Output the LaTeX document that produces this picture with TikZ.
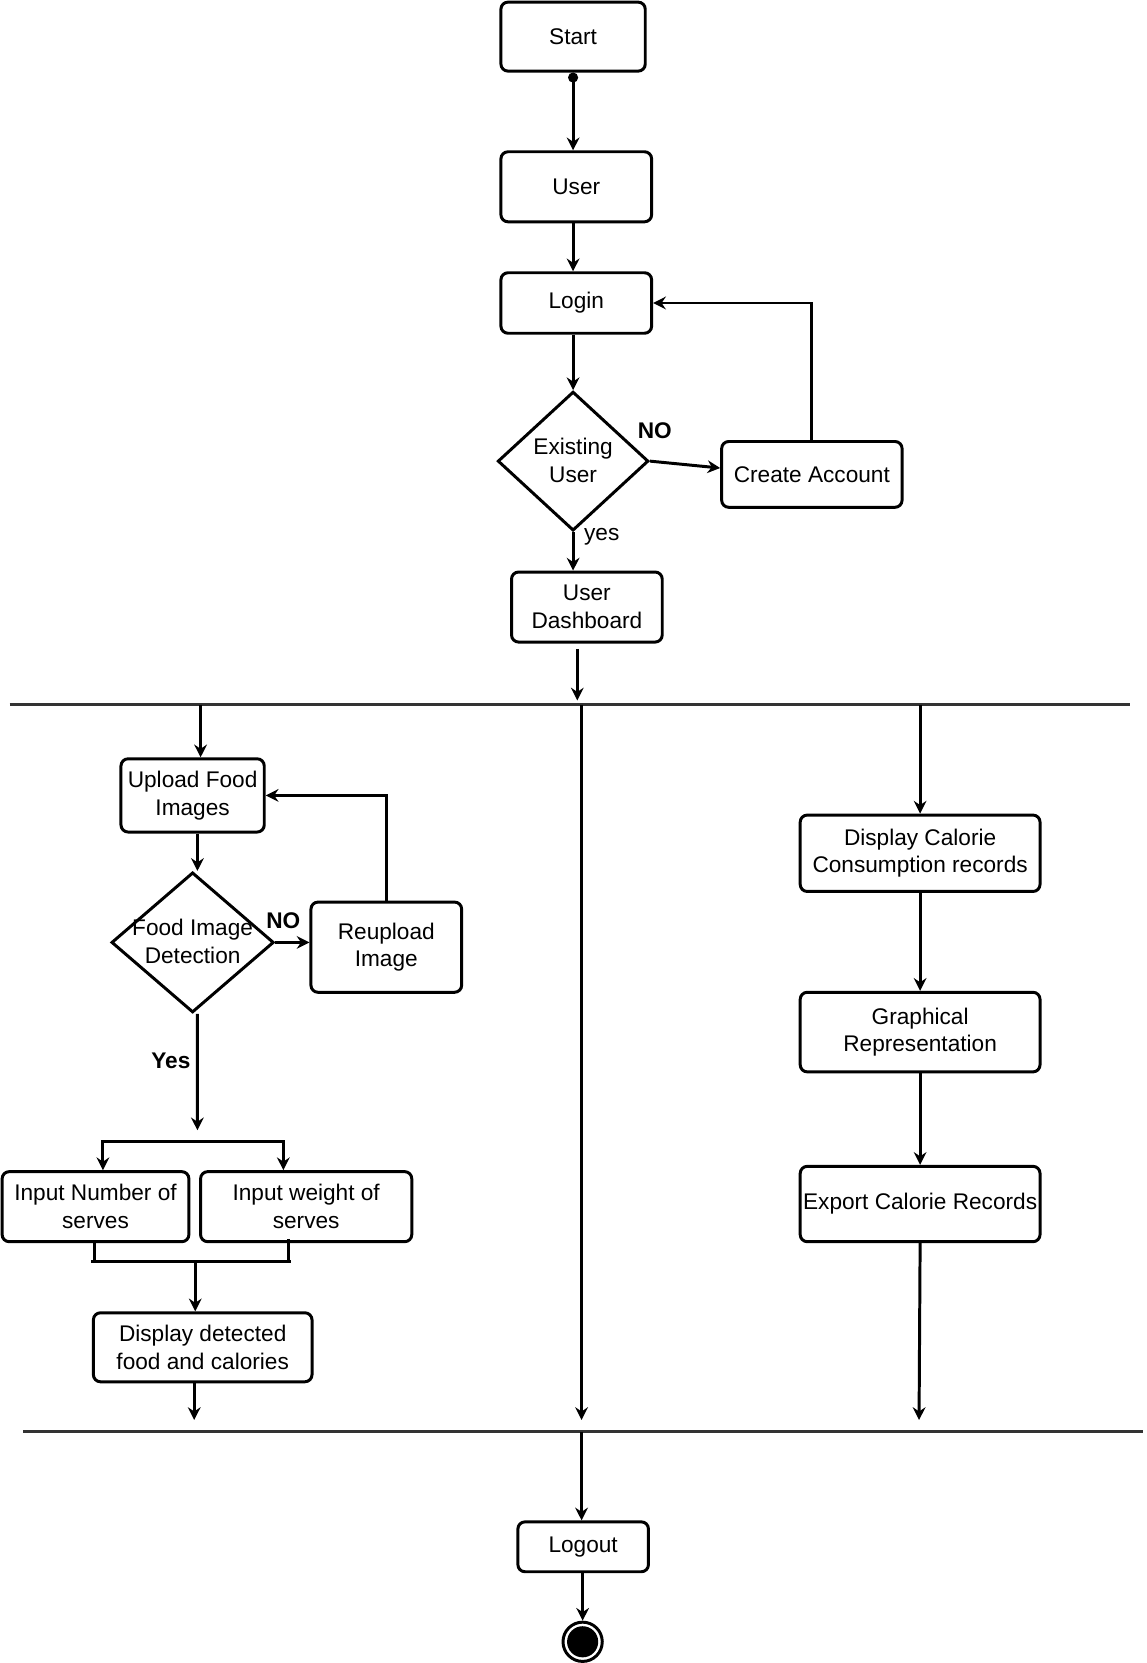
\documentclass[tikz,border=0pt]{standalone}
\usepackage{fontspec}
\setmainfont{Liberation Sans}
\usetikzlibrary{shapes.geometric,arrows.meta,calc}
\begin{document}
\begin{tikzpicture}[x=0.75pt,y=-0.75pt,
  >={Stealth[length=9pt,width=9pt,inset=3pt]},
  every node/.style={font=\fontsize{16}{19.5}\selectfont, text=black},
  box/.style={draw, rounded corners=5pt, line width=2.1pt, align=center, inner sep=0pt},
  dia/.style={draw, diamond, line width=2.1pt, inner sep=0pt},
  lbl/.style={inner sep=0pt, align=center},
  bl/.style={inner sep=0pt, font=\fontsize{16}{19.5}\selectfont\bfseries},
  con/.style={line width=2.1pt},
  arr/.style={con, ->},
  bar/.style={line width=1.9pt, draw=black!80}
]
\useasboundingbox (0,0) rectangle (1080,1567);

% ---------- top part ----------
\node[box, minimum width=102pt, minimum height=48.75pt] (start) at (540,34.5) {Start};
\node[box, minimum width=106.5pt, minimum height=49.5pt] (user) at (543,176) {User};
\node[box, minimum width=106.5pt, minimum height=42.75pt] (login) at (543,285.5) {Login};
\node[dia, minimum width=106.5pt, minimum height=98.25pt] (ex) at (540,434.5) {};
\node[lbl] (exT) at (540,434) {Existing\\User};
\node[box, minimum width=127.5pt, minimum height=46.5pt] (ca) at (765,447) {Create Account};
\node[box, minimum width=106.5pt, minimum height=49.5pt] (dash) at (553,572) {User\\Dashboard};
\node[bl] (no1) at (617,406) {NO};
\node[lbl] (yes1) at (567,506) {yes};

\draw[con, {Circle[length=7pt]}->] (start.south) -- (start.south |- user.north);
\draw[arr] ([xshift=-2.25pt]user.south) -- ([xshift=-2.25pt]login.north);
\draw[arr] (login.south -| ex.north) -- (ex.north);
\draw[arr] (ex.east) -- ([yshift=4.5pt]ca.west);
\draw[arr] (ca.north) |- (login.east);
\draw[arr] (ex.south) -- (ex.south |- dash.north);
\coordinate (d1) at (544,660);
\draw[arr] ($(dash.south)+(-9,5)$) -- (d1);

% ---------- bars ----------
\coordinate (b1L) at (9,664);
\coordinate (b1R) at (1065,664);
\draw[bar] (b1L) -- (b1R);
\coordinate (b2L) at (22,1349);
\coordinate (b2R) at (1077,1349);
\draw[bar] (b2L) -- (b2R);

% ---------- left column ----------
\node[box, minimum width=101.25pt, minimum height=51.75pt] (up) at (181.5,749.5) {Upload Food\\Images};
\node[dia, minimum width=114.75pt, minimum height=99pt] (food) at (181.5,888) {};
\node[lbl] (foodT) at (181.5,887) {Food Image\\Detection};
\node[box, minimum width=106.5pt, minimum height=63.75pt] (reup) at (364,892.5) {Reupload\\Image};
\node[bl] (no2) at (267,868) {NO};
\node[bl] (yes2) at (161,1000) {Yes};
\node[box, minimum width=132pt, minimum height=49.5pt] (in1) at (90,1137) {Input Number of\\serves};
\node[box, minimum width=149.25pt, minimum height=49.5pt] (in2) at (288.5,1137) {Input weight of\\serves};
\node[box, minimum width=154.5pt, minimum height=48.75pt] (disp) at (191,1269.5) {Display detected\\food and calories};

\coordinate (b1a) at (189,664);
\draw[arr] (b1a) -- (b1a |- up.north);
\draw[arr] ([xshift=3.4pt]up.south) -- ([xshift=3.4pt]food.north);
\draw[arr] (food.east) -- (food.east -| reup.west);
\draw[arr] (reup.north) |- (up.east);
\coordinate (fk) at (186,1065);
\draw[arr] ([xshift=3.4pt]food.south) -- (fk);
\coordinate (fkL) at (97,1076);
\coordinate (fkR) at (267,1076);
\draw[con, <->] (fkL |- in1.north) -- (fkL) -- (fkR) -- (fkR |- in2.north);
\coordinate (jL) at (86,1189);
\coordinate (jR) at (274,1189);
\draw[con] (jL) -- (jR);
\draw[con] ([xshift=-0.75pt]in1.south) -- ([xshift=-0.75pt]in1.south |- jL);
\draw[con] ($(in2.south)+(-16.5,-4)$) -- ($(in2.south |- jL)+(-16.5,0)$);
\coordinate (jM) at (184,1189);
\draw[arr] (jM) -- (jM |- disp.north);
\coordinate (d2) at (183,1338);
\draw[arr] (disp.south -| d2) -- (d2);

% ---------- middle ----------
\coordinate (b1b) at (548,664);
\coordinate (m2) at (548,1338);
\draw[arr] (b1b) -- (m2);

% ---------- right column ----------
\node[box, minimum width=169.5pt, minimum height=54pt] (dcal) at (867,804) {Display Calorie\\Consumption records};
\node[box, minimum width=169.5pt, minimum height=56.25pt] (graph) at (867,972.5) {Graphical\\Representation};
\node[box, minimum width=169.5pt, minimum height=53.25pt] (exp) at (867,1134.5) {Export Calorie Records};
\coordinate (b1c) at (867,664);
\draw[arr] (b1c) -- (dcal.north);
\draw[arr] (dcal.south) -- (graph.north);
\draw[arr] (graph.south) -- (exp.north);
\coordinate (r2) at (866,1338);
\draw[arr] (exp.south) -- (r2);

% ---------- bottom ----------
\node[box, minimum width=92.25pt, minimum height=35.25pt] (logout) at (549.5,1457.5) {Logout};
\node[circle, draw, line width=2.1pt, minimum size=27.75pt, inner sep=0pt] (endo) at (549,1547) {};
\node[circle, fill=black, minimum size=22pt, inner sep=0pt] (endi) at (endo.center) {};
\coordinate (b2c) at (548,1349);
\draw[arr] (b2c) -- (b2c |- logout.north);
\draw[arr] (logout.south -| endo.north) -- (endo.north);
\end{tikzpicture}
\end{document}
